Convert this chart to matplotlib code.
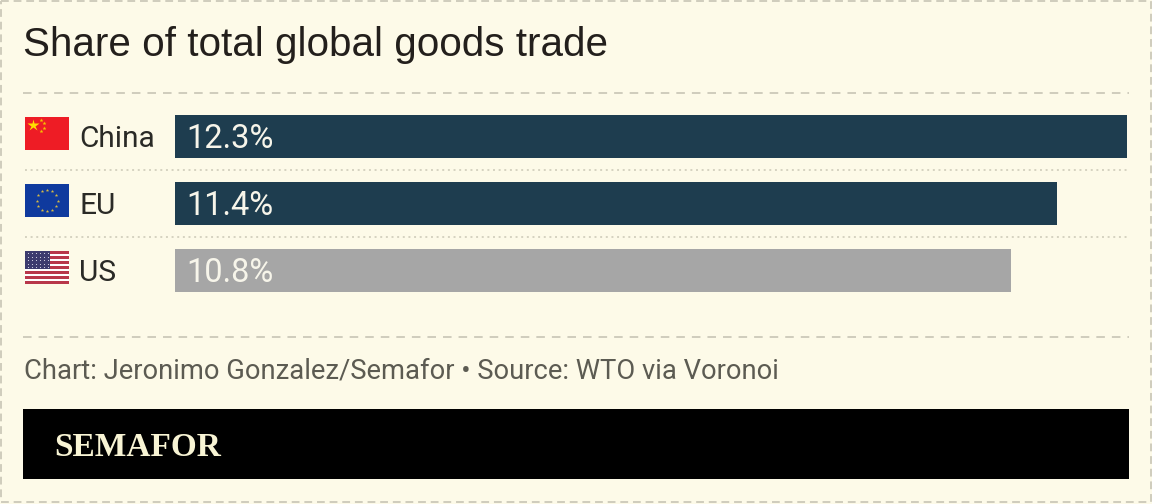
import matplotlib
matplotlib.use("Agg")
import matplotlib.pyplot as plt
from matplotlib.patches import Rectangle
from matplotlib.lines import Line2D
import numpy as np

TITLE = "Share of total global goods trade"
FOOT = "Chart: Jeronimo Gonzalez/Semafor \u2022 Source: WTO via Voronoi"
BRAND = "SEMAFOR"
regions = ["China", "EU", "US"]
shares = [12.3, 11.4, 10.8]
bar_labels = ["12.3%", "11.4%", "10.8%"]
bar_colors = ["#1e3d4f", "#1e3d4f", "#a6a6a6"]

BG = "#fdfae8"
W, H = 1152, 504
LABEL_FONT = "Roboto"

fig = plt.figure(figsize=(W / 100, H / 100), dpi=100, facecolor=BG)

# overlay in pixel coords for everything that isn't data
pg = fig.add_axes([0, 0, 1, 1])
pg.set_xlim(0, W); pg.set_ylim(H, 0); pg.axis("off")


def hline(y, x0=23, x1=1129, **kw):
    pg.add_line(Line2D([x0, x1], [y, y], **kw))


# outer dashed border
pg.add_patch(Rectangle((1, 1), W - 2, H - 3, fill=False, ec="#cfccbc", lw=1.4, ls=(0, (4, 2.5))))
# section rules
hline(92.5, color="#cfccbc", lw=1.4, ls=(0, (4.4, 3.6)))
hline(336.5, color="#cfccbc", lw=1.4, ls=(0, (4.4, 3.6)))
hline(170, x0=25, x1=1127, color="#d5d2c0", lw=1.4, ls=(0, (1, 1.9)))
hline(237, x0=25, x1=1127, color="#d5d2c0", lw=1.4, ls=(0, (1, 1.9)))

pg.text(23, 44.5, TITLE, fontsize=29.1, family="Liberation Sans", color="#231f1c", va="center", ha="left")
pg.text(24, 370.5, FOOT, fontsize=19.7, family=LABEL_FONT, color="#5c5b52", va="center", ha="left")

# black brand band
pg.add_patch(Rectangle((23, 409), 1106, 70, fc="#000000", ec="none"))
pg.text(54, 447, BRAND, fontsize=24, family="Liberation Serif", weight="bold", color="#f8f4d4", va="center", ha="left")

# bars
ax = fig.add_axes([175 / W, 1 - 292 / H, (1127 - 175) / W, (292 - 115) / H])
ax.set_xlim(0, shares[0])
ax.set_ylim(2 + 43 / 67 / 2, -43 / 67 / 2)
ax.axis("off")
ax.patch.set_alpha(0)
ypos = np.arange(len(regions))
ax.barh(ypos, shares, height=43 / 67, color=bar_colors)
for y, lab in zip(ypos, bar_labels):
    ax.annotate(lab, (0, y), xytext=(11, 1), textcoords="offset pixels", fontsize=23.5,
                family=LABEL_FONT, color="#f7f5ea", va="center_baseline", ha="left")

# region names and flags
for i, name in enumerate(regions):
    pg.text(79, 136 + 67 * i, name, fontsize=21.5, family=LABEL_FONT, color="#2a2a26", va="center_baseline", ha="left")


def star(x, y, s, color):
    pg.plot([x], [y], marker="*", ms=s, mfc=color, mec="none", ls="none")


# China flag
pg.add_patch(Rectangle((25, 117), 44, 33, fc="#ee1c25", ec="none"))
star(33, 125, 9, "#ffde00")
for sx, sy in [(41, 120), (44, 123), (44, 128), (41, 131)]:
    star(sx, sy, 3, "#f5c400")

# EU flag
pg.add_patch(Rectangle((25, 184), 44, 33, fc="#0f3a9e", ec="none"))
for a in np.deg2rad(np.arange(0, 360, 30)):
    star(47 + 10.5 * np.cos(a), 200.5 + 10.5 * np.sin(a), 2.6, "#d8bb45")

# US flag
pg.add_patch(Rectangle((25, 251), 44, 33, fc="#ffffff", ec="none"))
for k in range(7):
    pg.add_patch(Rectangle((25, 251 + k * 33 / 6.5), 44, 33 / 13, fc="#b8374a", ec="none"))
pg.add_patch(Rectangle((25, 251), 25, 18, fc="#3c3b6e", ec="none"))
for r in range(5):
    for c in range(6):
        pg.plot([27.5 + c * 4], [253 + r * 3.5], marker=".", ms=1.6, mfc="#dcdcec", mec="none", ls="none")

fig.savefig("out.png", dpi=100, facecolor=BG)
